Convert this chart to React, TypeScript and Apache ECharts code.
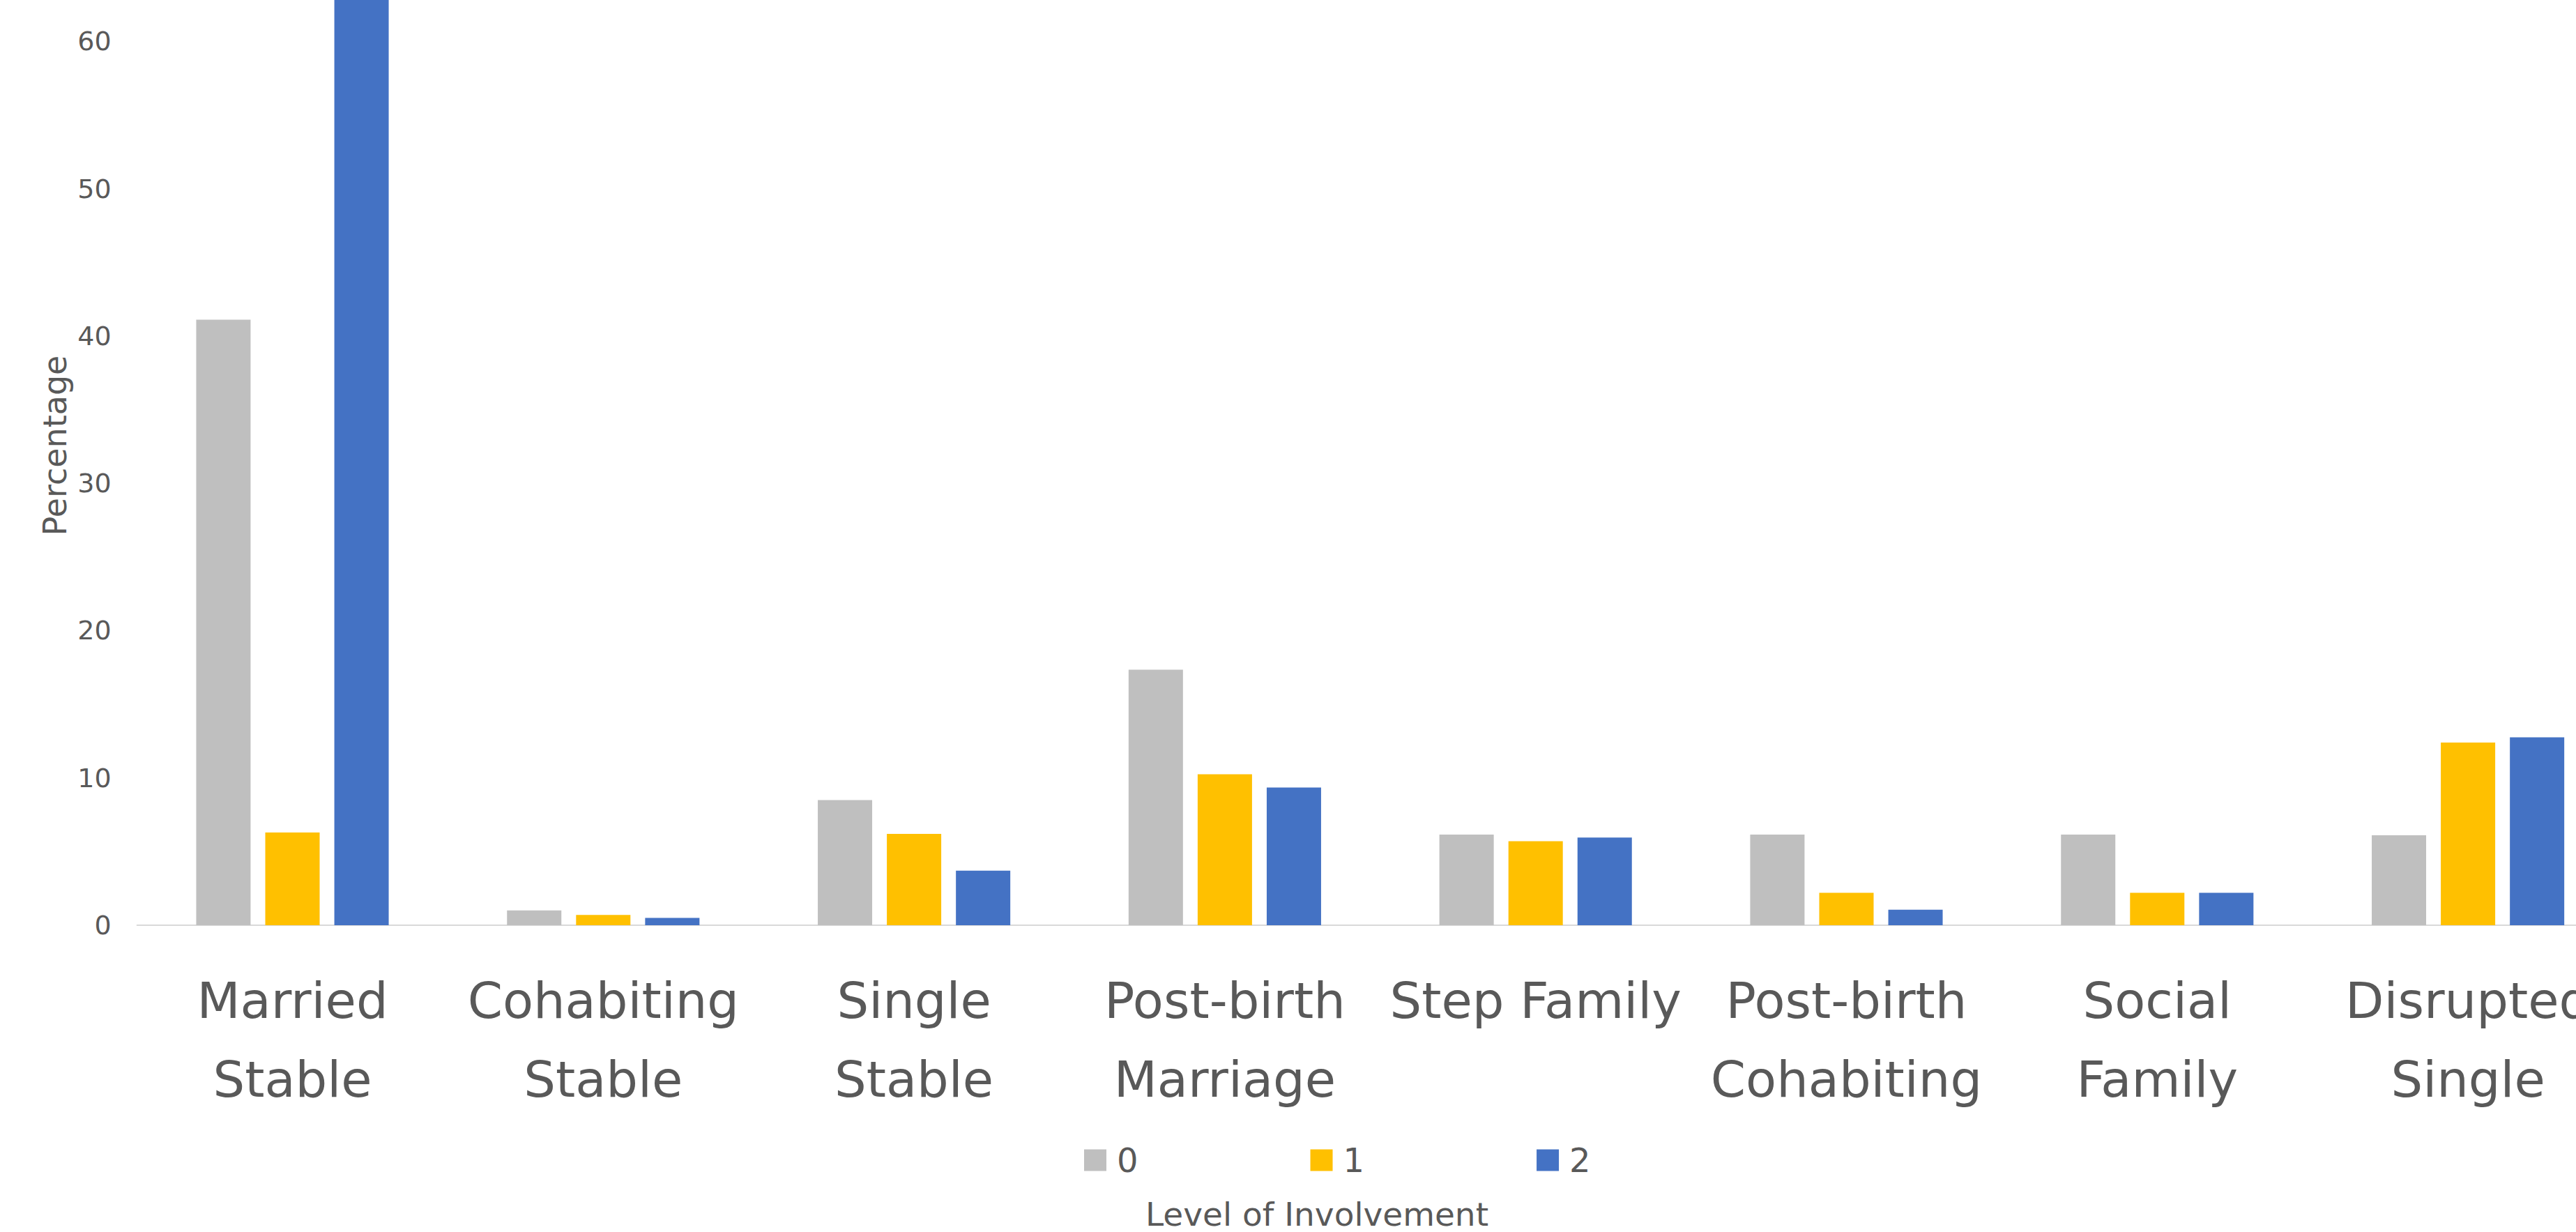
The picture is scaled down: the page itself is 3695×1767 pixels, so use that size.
import React, { useEffect, useRef } from "react";
import * as echarts from "echarts";

const categories = [
  "Married\nStable",
  "Cohabiting\nStable",
  "Single\nStable",
  "Post-birth\nMarriage",
  "Step Family",
  "Post-birth\nCohabiting",
  "Social\nFamily",
  "Disrupted\nSingle",
];
const seriesNames = ["0", "1", "2"];
const level0 = [41.1, 1.0, 8.5, 17.35, 6.15, 6.15, 6.15, 6.1];
const level1 = [6.3, 0.7, 6.2, 10.25, 5.7, 2.2, 2.2, 12.4];
const level2 = [65, 0.5, 3.7, 9.35, 5.95, 1.05, 2.2, 12.75];
const colors = ["#BFBFBF", "#FFC000", "#4472C4"];
const yTicks = { min: 0, max: 70, interval: 10 };

const FONT = "'Comic Sans MS', 'DejaVu Sans', sans-serif";
const TEXT = "#595959";
const OFFSET = 200; // chart is shifted up so its top is cropped like the reference

export default function App() {
  const ref = useRef<HTMLDivElement>(null);
  useEffect(() => {
    if (!ref.current) return;
    const chart = echarts.init(ref.current, undefined, { renderer: "svg" });
    const values = [level0, level1, level2];
    chart.setOption({
      animation: false,
      backgroundColor: "#ffffff",
      textStyle: { fontFamily: FONT, color: TEXT },
      grid: { left: 196.6, top: 48, width: 3566.4, height: 1479, containLabel: false },
      legend: {
        left: 1550,
        top: 1834,
        itemWidth: 32,
        itemHeight: 31,
        itemGap: 247,
        icon: "rect",
        data: seriesNames,
        textStyle: {
          fontFamily: FONT,
          fontSize: 48,
          color: TEXT,
          lineHeight: 50,
          padding: [0, 0, 0, 10],
        },
      },
      xAxis: {
        type: "category",
        data: categories,
        axisLine: { show: true, lineStyle: { color: "#D9D9D9", width: 2 } },
        axisTick: { show: false },
        axisLabel: {
          interval: 0,
          hideOverlap: false,
          margin: 51,
          fontFamily: FONT,
          fontSize: 72,
          lineHeight: 113,
          color: TEXT,
        },
        splitLine: { show: false },
      },
      yAxis: {
        type: "value",
        min: yTicks.min,
        max: yTicks.max,
        interval: yTicks.interval,
        axisLine: { show: false },
        axisTick: { show: false },
        splitLine: { show: false },
        axisLabel: {
          margin: 37,
          fontFamily: FONT,
          fontSize: 38,
          color: TEXT,
          showMaxLabel: false,
        },
      },
      graphic: [
        {
          type: "text",
          x: 79,
          y: 639 + OFFSET,
          rotation: Math.PI / 2,
          style: {
            text: "Percentage",
            fontFamily: FONT,
            fontSize: 46,
            fill: TEXT,
            align: "center",
            verticalAlign: "middle",
          },
        },
        {
          type: "text",
          x: 1889,
          y: 1741 + OFFSET,
          style: {
            text: "Level of Involvement",
            fontFamily: FONT,
            fontSize: 47,
            fill: TEXT,
            align: "center",
            verticalAlign: "middle",
          },
        },
      ],
      series: seriesNames.map((name, i) => ({
        name,
        type: "bar",
        data: values[i],
        barWidth: 78,
        barGap: "27%",
        itemStyle: { color: colors[i] },
      })),
    });
    return () => chart.dispose();
  }, []);
  return (
    <div
      style={{
        position: "fixed",
        left: 0,
        top: 0,
        width: 3695,
        height: 1767,
        overflow: "hidden",
        background: "#fff",
      }}
    >
      <div
        ref={ref}
        style={{ position: "absolute", left: 0, top: -OFFSET, width: 3900, height: 1767 + OFFSET }}
      />
    </div>
  );
}
